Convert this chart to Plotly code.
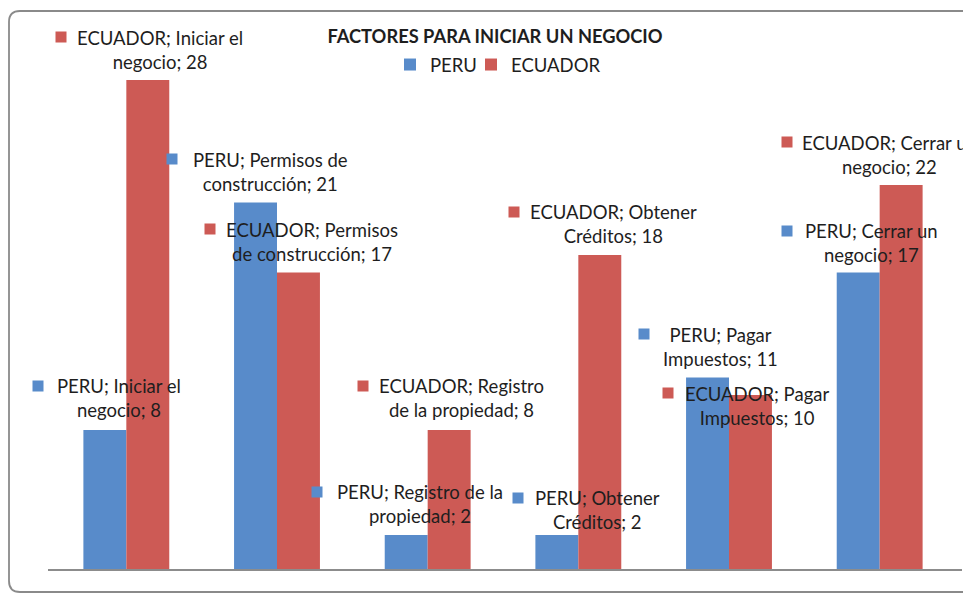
import plotly.graph_objects as go

# ---- data ----
categories = ["Iniciar el negocio", "Permisos de construcción", "Registro de la propiedad",
              "Obtener Créditos", "Pagar Impuestos", "Cerrar un negocio"]
peru = [8, 21, 2, 2, 11, 17]
ecuador = [28, 17, 8, 18, 10, 22]
series_names = ["PERU", "ECUADOR"]
title_text = "FACTORES PARA INICIAR UN NEGOCIO"

# label text as wrapped in the original
peru_wrap = ["PERU; Iniciar el<br>negocio; {v}",
             "PERU; Permisos de<br>construcción; {v}",
             "PERU; Registro de la<br>propiedad; {v}",
             "PERU; Obtener<br>Créditos; {v}",
             "PERU; Pagar<br>Impuestos; {v}",
             "PERU; Cerrar un<br>negocio; {v}"]
ecu_wrap = ["ECUADOR; Iniciar el<br>negocio; {v}",
            "ECUADOR; Permisos<br>de construcción; {v}",
            "ECUADOR; Registro<br>de la propiedad; {v}",
            "ECUADOR; Obtener<br>Créditos; {v}",
            "ECUADOR; Pagar<br>Impuestos; {v}",
            "ECUADOR; Cerrar un<br>negocio; {v}"]

# ---- style / layout ----
OX, OY = 8, 8                      # page body margin of the html page
W, H = 971 - OX, 595 - OY
L, T = 51 - OX, 45 - OY
R = W + OX - 955
B = (H + OY) - 570
PW, PH = W - L - R, H - T - B
BLUE = "#588BCA"
RED = "#CD5A55"
FONT = "Lato"
FS = 18.5
TXT = "#1e1e1e"

# label offsets (px) relative to category center / bar top: text center (dx, dy up), key square (sdx, sdy up)
peru_off = [(-7, 32, -88, 44), (-7, 31, -105, 43.5), (-8, 31, -111, 43),
            (19, 25, -60, 37), (-9, 31, -85, 43.5), (-8, 30, -93, 42)]
ecu_off = [(34, 30.5, -65, 43), (35, 31, -67, 43.5), (34, 32, -64.5, 44),
           (35, 31, -64, 43), (28, -10.5, -61, 2), (10, 30.5, -93, 43)]


def px_x(p):
    """page x pixel -> paper fraction"""
    return (p - OX - L) / PW


def px_y(p):
    """page y pixel -> paper fraction"""
    return (H - B - (p - OY)) / PH


fig = go.Figure()
fig.add_trace(go.Bar(x=categories, y=peru, name=series_names[0], marker_color=BLUE,
                     marker_line_width=0, legend="legend"))
fig.add_trace(go.Bar(x=categories, y=ecuador, name=series_names[1], marker_color=RED,
                     marker_line_width=0, legend="legend2"))

annotations = []
for vals, wraps, offs, color in ((peru, peru_wrap, peru_off, BLUE),
                                 (ecuador, ecu_wrap, ecu_off, RED)):
    for i, (v, w, o) in enumerate(zip(vals, wraps, offs)):
        dx, dy, sdx, sdy = o
        annotations.append(dict(x=i, y=v, xref="x", yref="y", text=w.format(v=v),
                                showarrow=False, xshift=dx, yshift=dy,
                                font=dict(family=FONT, size=FS, color=TXT),
                                align="center"))
        annotations.append(dict(x=i, y=v, xref="x", yref="y", text=" ",
                                showarrow=False, xshift=sdx, yshift=sdy,
                                width=10, height=10, bgcolor=color, borderpad=0,
                                font=dict(size=1)))

# frame (rounded at the left, cropped at the right)
fx0, fy0, fy1, fx1, rr = 9, 11, 592, 1000, 11
frame_path = (f"M {px_x(fx1)} {px_y(fy0)} L {px_x(fx0 + rr)} {px_y(fy0)} "
              f"Q {px_x(fx0)} {px_y(fy0)} {px_x(fx0)} {px_y(fy0 + rr)} "
              f"L {px_x(fx0)} {px_y(fy1 - rr)} "
              f"Q {px_x(fx0)} {px_y(fy1)} {px_x(fx0 + rr)} {px_y(fy1)} "
              f"L {px_x(fx1)} {px_y(fy1)}")
shapes = [
    dict(type="path", path=frame_path, xref="paper", yref="paper",
         line=dict(color="#8a8a8a", width=1.8)),
    dict(type="line", xref="paper", yref="paper", x0=px_x(48), x1=px_x(962), y0=0, y1=0,
         line=dict(color="#8c8c8c", width=2)),
]

legend_common = dict(orientation="h", xref="paper", xanchor="left", yanchor="middle",
                     font=dict(family=FONT, size=FS, color=TXT), bgcolor="rgba(0,0,0,0)",
                     itemclick=False, itemdoubleclick=False)

fig.update_layout(
    width=W, height=H,
    margin=dict(l=L, r=R, t=T, b=B),
    paper_bgcolor="white", plot_bgcolor="white",
    barmode="group", bargap=0.43, bargroupgap=0,
    title=dict(text=f"<b>{title_text}</b>", x=px_x(495), xref="paper", xanchor="center",
               y=1 - (37 - OY) / H, yref="container", yanchor="middle",
               font=dict(family=FONT, size=18.3, color=TXT)),
    showlegend=True,
    legend=dict(x=px_x(390), y=px_y(65), **legend_common),
    legend2=dict(x=px_x(471), y=px_y(65), **legend_common),
    xaxis=dict(range=[-0.5, len(categories) - 0.5], autorange=False,
               showticklabels=False, showgrid=False, zeroline=False, showline=False,
               ticks="", fixedrange=True),
    yaxis=dict(range=[0, 30], autorange=False, showticklabels=False, showgrid=False,
               zeroline=False, showline=False, ticks="", fixedrange=True),
    annotations=annotations,
    shapes=shapes,
)

fig.write_html("out.html")
